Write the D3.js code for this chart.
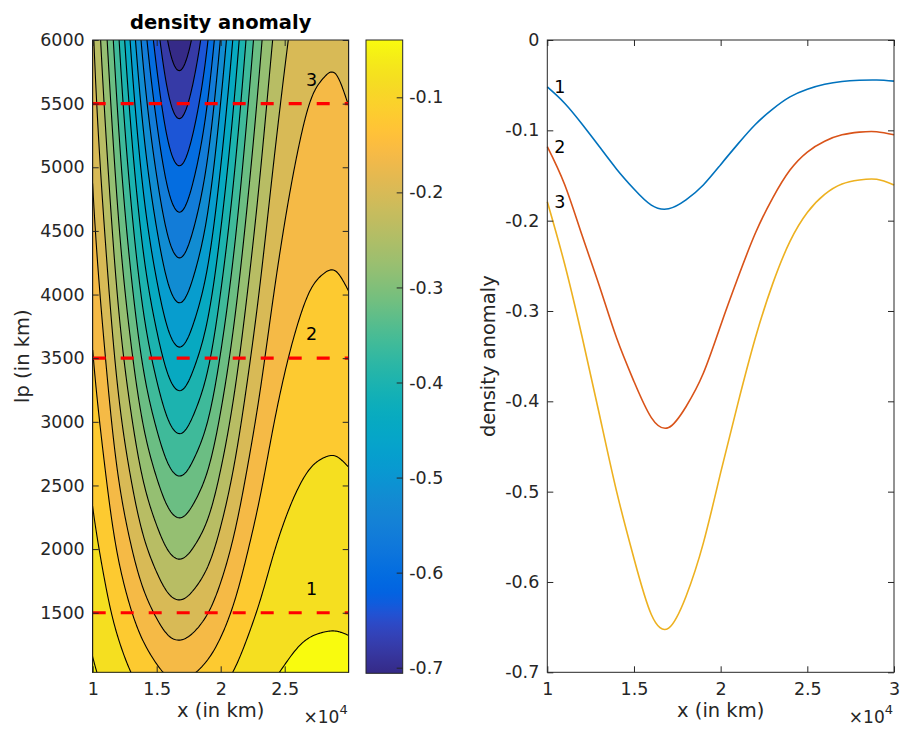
<!DOCTYPE html>
<html>
<head>
<meta charset="utf-8">
<script src="https://cdn.jsdelivr.net/npm/d3@7"></script>
<style>
	body { margin: 0; background: #fff; }
	text { font-family: "DejaVu Sans", sans-serif; fill: #262626; }
	.axis path, .axis line { stroke: #262626; }
</style>
</head>
<body>
<div id="chart-area"></div>
<script>

// Data

// x positions of the samples (km)
var xKm = [10000, 11000, 12000, 13000, 14000, 15000, 16000, 17000, 18000, 19000, 20000,
	21000, 22000, 23000, 24000, 25000, 26000, 27000, 28000, 29000, 30000];

// lp of the three cuts (km)
var lpCuts = [1500, 3500, 5500];

// density anomaly along each cut
var rho1500 = [-0.052, -0.070, -0.093, -0.118, -0.143, -0.165, -0.1828, -0.1868, -0.177, -0.1605, -0.138,
	-0.115, -0.0935, -0.0765, -0.0630, -0.0545, -0.0490, -0.0459, -0.0446, -0.0443, -0.0455];
var rho3500 = [-0.118, -0.160, -0.216, -0.272, -0.330, -0.378, -0.418, -0.429, -0.406, -0.369, -0.316,
	-0.263, -0.214, -0.175, -0.144, -0.124, -0.112, -0.105, -0.102, -0.1015, -0.105];
var rho5500 = [-0.179, -0.248, -0.328, -0.414, -0.500, -0.574, -0.636, -0.651, -0.616, -0.557, -0.479,
	-0.402, -0.330, -0.270, -0.223, -0.191, -0.171, -0.1595, -0.155, -0.1542, -0.1605];

// contour levels of the left panel
var contourLevels = [-0.68, -0.64, -0.60, -0.56, -0.52, -0.48, -0.44, -0.40, -0.36,
	-0.32, -0.28, -0.24, -0.20, -0.16, -0.12, -0.08, -0.04];

var colorRange = [-0.7059, -0.0397];

// tick labels
var xTicksLeft = [10000, 15000, 20000, 25000];
var xTicksRight = [10000, 15000, 20000, 25000, 30000];
var lpTicks = [1500, 2000, 2500, 3000, 3500, 4000, 4500, 5000, 5500, 6000];
var rhoTicks = [-0.7, -0.6, -0.5, -0.4, -0.3, -0.2, -0.1, 0];
var cbarTicks = [-0.7, -0.6, -0.5, -0.4, -0.3, -0.2, -0.1];

// parula colormap (64 entries)
var parula = [
	[0.2081, 0.1663, 0.5292], [0.2116, 0.1898, 0.5777], [0.2123, 0.2138, 0.6270], [0.2081, 0.2386, 0.6771],
	[0.1959, 0.2645, 0.7279], [0.1707, 0.2919, 0.7792], [0.1253, 0.3242, 0.8303], [0.0591, 0.3598, 0.8683],
	[0.0117, 0.3875, 0.8820], [0.0060, 0.4086, 0.8828], [0.0165, 0.4266, 0.8786], [0.0329, 0.4430, 0.8720],
	[0.0498, 0.4586, 0.8641], [0.0629, 0.4737, 0.8554], [0.0723, 0.4887, 0.8467], [0.0779, 0.5040, 0.8384],
	[0.0793, 0.5200, 0.8312], [0.0749, 0.5375, 0.8263], [0.0641, 0.5570, 0.8240], [0.0488, 0.5772, 0.8228],
	[0.0343, 0.5966, 0.8199], [0.0265, 0.6137, 0.8135], [0.0239, 0.6287, 0.8038], [0.0231, 0.6418, 0.7913],
	[0.0228, 0.6535, 0.7768], [0.0267, 0.6642, 0.7607], [0.0384, 0.6743, 0.7436], [0.0590, 0.6838, 0.7254],
	[0.0843, 0.6928, 0.7062], [0.1133, 0.7015, 0.6859], [0.1453, 0.7098, 0.6646], [0.1801, 0.7177, 0.6424],
	[0.2178, 0.7250, 0.6193], [0.2586, 0.7317, 0.5954], [0.3022, 0.7376, 0.5712], [0.3482, 0.7424, 0.5473],
	[0.3953, 0.7459, 0.5244], [0.4420, 0.7481, 0.5033], [0.4871, 0.7491, 0.4840], [0.5300, 0.7491, 0.4661],
	[0.5709, 0.7485, 0.4494], [0.6099, 0.7473, 0.4337], [0.6473, 0.7456, 0.4188], [0.6834, 0.7435, 0.4044],
	[0.7184, 0.7411, 0.3905], [0.7525, 0.7384, 0.3768], [0.7858, 0.7356, 0.3633], [0.8185, 0.7327, 0.3498],
	[0.8507, 0.7299, 0.3360], [0.8824, 0.7274, 0.3217], [0.9139, 0.7258, 0.3063], [0.9450, 0.7261, 0.2886],
	[0.9739, 0.7314, 0.2666], [0.9938, 0.7455, 0.2403], [0.9990, 0.7653, 0.2164], [0.9955, 0.7861, 0.1967],
	[0.9880, 0.8066, 0.1794], [0.9789, 0.8271, 0.1633], [0.9697, 0.8481, 0.1475], [0.9626, 0.8705, 0.1309],
	[0.9589, 0.8949, 0.1132], [0.9598, 0.9218, 0.0948], [0.9661, 0.9514, 0.0755], [0.9763, 0.9831, 0.0538]
].map((c) => d3.rgb(c[0] * 255, c[1] * 255, c[2] * 255).formatHex());

var lineColors = ["#0072bd", "#d95319", "#edb120"];
var cutLabels = ["1", "2", "3"];

// Setup the canvas

var svg = d3.select("#chart-area").append("svg")
	.attr("width", 903)
	.attr("height", 729);

var xL = d3.scaleLinear().domain([10000, 30000]).range([92.7, 348.7]);
var yL = d3.scaleLinear().domain([1032, 6000]).range([672.3, 40]);
var yC = d3.scaleLinear().domain(colorRange).range([673.3, 40]);
var xR = d3.scaleLinear().domain([10000, 30000]).range([547.3, 894]);
var yR = d3.scaleLinear().domain([-0.7, 0]).range([672.3, 40]);

var colorStops = parula.map((c, i) => colorRange[0] + i * (colorRange[1] - colorRange[0]) / (parula.length - 1));
var color = d3.scaleLinear().domain(colorStops).range(parula).interpolate(d3.interpolateRgb).clamp(true);

var fmtX = (d) => String(d / 10000);
var fmtRho = (d) => d === 0 ? "0" : d.toFixed(1);

// Build the grid for the contour plot from the three cuts

var profiles = [rho1500, rho3500, rho5500];

// natural cubic spline through the samples (same curve as d3.curveNatural)
function splineOf(arr) {
	var n = arr.length, m = new Array(n).fill(0);
	var a = [], b = [], r = [];
	for (var i = 1; i < n - 1; i++) {
		a.push(1); b.push(4); r.push(6 * (arr[i + 1] - 2 * arr[i] + arr[i - 1]));
	}
	var k = r.length;
	for (var i = 1; i < k; i++) {
		var q = a[i] / b[i - 1];
		b[i] -= q;
		r[i] -= q * r[i - 1];
	}
	m[k] = r[k - 1] / b[k - 1];
	for (var i = k - 2; i >= 0; i--) m[i + 1] = (r[i] - m[i + 2]) / b[i];
	return function(t) {
		var i = Math.max(0, Math.min(Math.floor(t), n - 2));
		var f = t - i, g = 1 - f;
		return g * arr[i] + f * arr[i + 1] + ((g * g * g - g) * m[i] + (f * f * f - f) * m[i + 1]) / 6;
	};
}

var splines = profiles.map(splineOf);

var nx = 201, ny = 201;
var gx0 = 10000, gdx = 100, gy0 = 1000, gdy = 25;
var cols = d3.range(nx).map((i) => splines.map((s) => s((gx0 + i * gdx - xKm[0]) / (xKm[1] - xKm[0]))));
var values = new Array(nx * ny);
for (var j = 0; j < ny; j++) {
	var lp = gy0 + j * gdy;
	var w = lpCuts.map((a, k) => {
		var num = 1, den = 1;
		lpCuts.forEach((b, m) => { if (m !== k) { num *= (lp - b); den *= (a - b); } });
		return num / den;
	});
	for (var i = 0; i < nx; i++) {
		values[j * nx + i] = w[0] * cols[i][0] + w[1] * cols[i][1] + w[2] * cols[i][2];
	}
}

var contours = d3.contours().size([nx, ny]).thresholds(contourLevels)(values);

var proj = d3.geoTransform({
	point: function(cx, cy) {
		this.stream.point(xL(gx0 + (cx - 0.5) * gdx), yL(gy0 + (cy - 0.5) * gdy));
	}
});
var path = d3.geoPath(proj);

// Left panel

svg.append("clipPath").attr("id", "clipL")
	.append("rect")
		.attr("x", xL(10000)).attr("y", yL(6000))
		.attr("width", xL(30000) - xL(10000))
		.attr("height", yL(1032) - yL(6000));

var gL = svg.append("g").attr("clip-path", "url(#clipL)");

gL.append("rect")
	.attr("x", xL(10000)).attr("y", yL(6000))
	.attr("width", xL(30000) - xL(10000))
	.attr("height", yL(1032) - yL(6000))
	.attr("fill", color(colorRange[0]));

gL.selectAll("path.fill").data(contours).enter()
	.append("path")
		.attr("class", "fill")
		.attr("d", path)
		.attr("fill", (d) => color(d.value));

gL.selectAll("path.iso").data(contours).enter()
	.append("path")
		.attr("class", "iso")
		.attr("d", path)
		.attr("fill", "none")
		.attr("stroke", "#000")
		.attr("stroke-width", 1.1);

gL.selectAll("line.cut").data(lpCuts).enter()
	.append("line")
		.attr("class", "cut")
		.attr("x1", xL(10000)).attr("x2", xL(30000))
		.attr("y1", (d) => yL(d)).attr("y2", (d) => yL(d))
		.attr("stroke", "#ff0000")
		.attr("stroke-width", 3.2)
		.attr("stroke-dasharray", "13,15");

gL.selectAll("text.cutlab").data(lpCuts).enter()
	.append("text")
		.attr("class", "cutlab")
		.attr("x", xL(27100))
		.attr("y", (d) => yL(d) - 24)
		.attr("dy", "0.36em")
		.attr("text-anchor", "middle")
		.attr("font-size", "17.5px")
		.style("fill", "#000")
		.text((d, i) => cutLabels[i]);

function drawAxes(xs, ys, xTicks, yTicks, yFmt, yDomain) {
	var g = svg.append("g");
	var y0 = ys(yDomain[0]), y1 = ys(yDomain[1]);
	var x0 = xs.range()[0], x1 = xs.range()[1];

	g.append("g").attr("class", "axis")
		.attr("transform", "translate(0," + y0 + ")")
		.call(d3.axisBottom(xs).tickValues(xTicks).tickFormat(fmtX).tickSizeInner(-6).tickSizeOuter(0).tickPadding(10.5))
		.selectAll("text").attr("font-size", "17.5px");

	g.append("g").attr("class", "axis")
		.attr("transform", "translate(0," + y1 + ")")
		.call(d3.axisTop(xs).tickValues(xTicks).tickFormat("").tickSizeInner(-6).tickSizeOuter(0));

	g.append("g").attr("class", "axis")
		.attr("transform", "translate(" + x0 + ",0)")
		.call(d3.axisLeft(ys).tickValues(yTicks).tickFormat(yFmt).tickSizeInner(-6).tickSizeOuter(0).tickPadding(8))
		.selectAll("text").attr("font-size", "17.5px");

	g.append("g").attr("class", "axis")
		.attr("transform", "translate(" + x1 + ",0)")
		.call(d3.axisRight(ys).tickValues(yTicks).tickFormat("").tickSizeInner(-6).tickSizeOuter(0));

	g.selectAll(".domain").remove();
	g.append("rect")
		.attr("x", x0).attr("y", y1)
		.attr("width", x1 - x0).attr("height", y0 - y1)
		.attr("fill", "none")
		.attr("stroke", "#262626")
		.attr("stroke-width", 1);

	// exponent label
	var ex = g.append("text")
		.attr("x", x1 - 1)
		.attr("y", 722.7)
		.attr("text-anchor", "end")
		.attr("font-size", "17px");
	ex.append("tspan").text("\u00d710");
	ex.append("tspan").attr("dy", -9).attr("font-size", "13px").text("4");

	g.append("text")
		.attr("x", (x0 + x1) / 2)
		.attr("y", 717)
		.attr("text-anchor", "middle")
		.attr("font-size", "19.5px")
		.text("x (in km)");
}

drawAxes(xL, yL, xTicksLeft, lpTicks, (d) => String(d), [1032, 6000]);

svg.append("text")
	.attr("transform", "translate(29," + ((40 + 672.3) / 2) + ") rotate(-90)")
	.attr("text-anchor", "middle")
	.attr("font-size", "19.5px")
	.text("lp (in km)");

svg.append("text")
	.attr("x", (xL(10000) + xL(30000)) / 2)
	.attr("y", 29)
	.attr("text-anchor", "middle")
	.attr("font-size", "19.5px")
	.attr("font-weight", "bold")
	.style("fill", "#000")
	.text("density anomaly");

// Colorbar

var grad = svg.append("defs").append("linearGradient")
	.attr("id", "parula")
	.attr("x1", 0).attr("y1", 1).attr("x2", 0).attr("y2", 0);
grad.selectAll("stop").data(parula).enter()
	.append("stop")
		.attr("offset", (d, i) => i / (parula.length - 1))
		.attr("stop-color", (d) => d);

var cbX = 366, cbW = 36.7;
svg.append("rect")
	.attr("x", cbX).attr("y", yC(colorRange[1]))
	.attr("width", cbW).attr("height", yC(colorRange[0]) - yC(colorRange[1]))
	.attr("fill", "url(#parula)")
	.attr("stroke", "#262626")
	.attr("stroke-width", 1);

var cbAxis = svg.append("g").attr("class", "axis")
	.attr("transform", "translate(" + (cbX + cbW) + ",0)")
	.call(d3.axisRight(yC).tickValues(cbarTicks).tickFormat(fmtRho).tickSizeInner(-6).tickSizeOuter(0).tickPadding(6.5));
cbAxis.select(".domain").remove();
cbAxis.selectAll("text").attr("font-size", "17.5px");

// Right panel

var line = d3.line()
	.x((d, i) => xR(xKm[i]))
	.y((d) => yR(d))
	.curve(d3.curveNatural);

svg.selectAll("path.cutline").data(profiles).enter()
	.append("path")
		.attr("class", "cutline")
		.attr("d", line)
		.attr("fill", "none")
		.attr("stroke", (d, i) => lineColors[i])
		.attr("stroke-width", 1.6);

svg.selectAll("text.linelab").data(profiles).enter()
	.append("text")
		.attr("class", "linelab")
		.attr("x", xR(10000) + 7)
		.attr("y", (d) => yR(d[0]))
		.attr("dy", "0.36em")
		.attr("font-size", "17.5px")
		.style("fill", "#000")
		.text((d, i) => cutLabels[i]);

drawAxes(xR, yR, xTicksRight, rhoTicks, fmtRho, [-0.7, 0]);

svg.append("text")
	.attr("transform", "translate(495," + ((40 + 672.3) / 2) + ") rotate(-90)")
	.attr("text-anchor", "middle")
	.attr("font-size", "19.5px")
	.text("density anomaly");

</script>
</body>
</html>
